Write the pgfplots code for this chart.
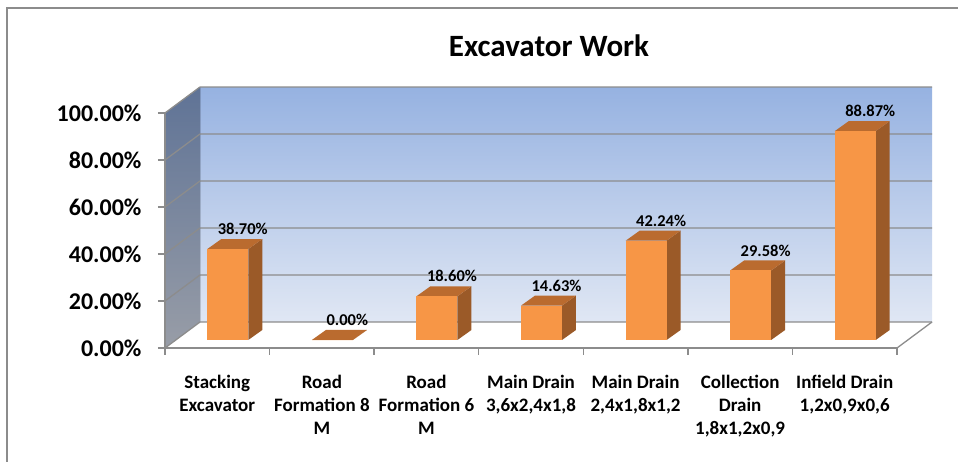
\documentclass[border=0pt]{standalone}
\usepackage{fontspec}
\setmainfont{Carlito}
\usepackage{pgfplots}
\usepackage{pgfplotstable}
\pgfplotsset{compat=1.18}
\definecolor{frontcol}{RGB}{247,150,70}
\definecolor{topcol}{RGB}{186,107,47}
\definecolor{sidecol}{RGB}{155,90,40}
\definecolor{gridcol}{RGB}{140,140,140}
\definecolor{walltop}{RGB}{150,178,225}
\definecolor{wallbot}{RGB}{224,231,244}
\definecolor{sidetop}{RGB}{95,115,150}
\definecolor{sidebot}{RGB}{152,157,167}

\pgfplotstableread{
x v
0 38.70
1 0.00
2 18.60
3 14.63
4 42.24
5 29.58
6 88.87
}\data

\newcommand\drawbar[1]{%
  \pgfplotstablegetelem{#1}{v}\of\data
  \let\barv\pgfplotsretval
  \pgfmathsetmacro\xL{#1-0.0956}%
  \pgfmathsetmacro\xR{#1+0.2964}%
  \pgfmathsetmacro\xLb{#1+0.0383}%
  \pgfmathsetmacro\xRb{#1+0.4303}%
  \pgfmathsetmacro\yT{\barv+3.404}%
  \pgfmathsetmacro\yTb{\barv+7.659}%
  \edef\temp{%
   \noexpand\addplot[draw=none,fill=sidecol,forget plot] coordinates {(\xR,3.404) (\xRb,7.659) (\xRb,\yTb) (\xR,\yT)};
   \noexpand\addplot[draw=none,fill=topcol,forget plot] coordinates {(\xL,\yT) (\xR,\yT) (\xRb,\yTb) (\xLb,\yTb)};
   \noexpand\addplot[draw=none,fill=frontcol,forget plot] coordinates {(\xL,3.404) (\xR,3.404) (\xR,\yT) (\xL,\yT)};
  }\temp
}

\begin{document}
\begin{tikzpicture}[x=1pt,y=1pt]
\useasboundingbox (0,0) rectangle (958,462);
\draw[gridcol, line width=2pt] (7,0) -- (7,454) -- (958,454);
\node[font=\bfseries\fontsize{31}{37}\selectfont] at (549,416) {Excavator Work};
\begin{axis}[
  at={(165pt,114pt)}, anchor=south west,
  scale only axis, width=732pt, height=235pt,
  xmin=-0.5, xmax=6.5, ymin=0, ymax=100,
  clip=false, axis on top,
  axis lines*=left,
  axis line style={gridcol, line width=1.3pt},
  tick align=outside, major tick length=7pt,
  tick style={gridcol, line width=1.3pt},
  ytick={0,20,...,100},
  xtick={-0.5,0.5,...,6.5}, xticklabels={},
  extra x ticks={0,...,6},
  extra x tick labels={{Stacking\\Excavator},{Road\\Formation 8\\M},{Road\\Formation 6\\M},{Main Drain\\3,6x2,4x1,8},{Main Drain\\2,4x1,8x1,2},{Collection\\Drain\\1,8x1,2x0,9},{Infield Drain\\1,2x0,9x0,6}},
  extra x tick style={major tick length=0pt, tick style={draw=none},
     xticklabel style={align=center, font=\bfseries\fontsize{19}{23}\selectfont, yshift=-24pt}},
  /pgf/number format/assume math mode=true,
  yticklabel={\pgfmathprintnumber[fixed,fixed zerofill,precision=2]{\tick}\%},
  yticklabel style={font=\bfseries\fontsize{24}{29}\selectfont, xshift=-13pt},
]
% walls
\fill[top color=walltop, bottom color=wallbot] (axis cs:-0.1653,11.06) rectangle (axis cs:6.8347,111.06);
\fill[top color=sidetop, bottom color=sidebot] (axis cs:-0.5,0) -- (axis cs:-0.1653,11.06) -- (axis cs:-0.1653,111.06) -- (axis cs:-0.5,100) -- cycle;
\fill[white] (axis cs:-0.5,0) -- (axis cs:6.5,0) -- (axis cs:6.8347,11.06) -- (axis cs:-0.1653,11.06) -- cycle;
\foreach \g in {0,20,...,100}{
  \pgfmathsetmacro\gb{\g+11.06}
  \edef\tmp{\noexpand\draw[gridcol, line width=1.3pt] (axis cs:-0.5,\g) -- (axis cs:-0.1653,\gb) -- (axis cs:6.8347,\gb);}\tmp
}
\draw[gridcol, line width=1.3pt] (axis cs:6.5,0) -- (axis cs:6.8347,11.06);
% bars
\pgfplotsinvokeforeach{0,...,6}{\drawbar{#1}}
% labels
\addplot[draw=none, mark=none, point meta=explicit,
  nodes near coords={\pgfmathprintnumber[fixed,fixed zerofill,precision=2]{\pgfplotspointmeta}\%},
  nodes near coords style={anchor=center, font=\bfseries\fontsize{16.5}{20}\selectfont}]
  table[x expr=\thisrow{x}+0.244, y expr=\thisrow{v}+11.9, meta=v] {\data};
\end{axis}
\end{tikzpicture}
\end{document}
